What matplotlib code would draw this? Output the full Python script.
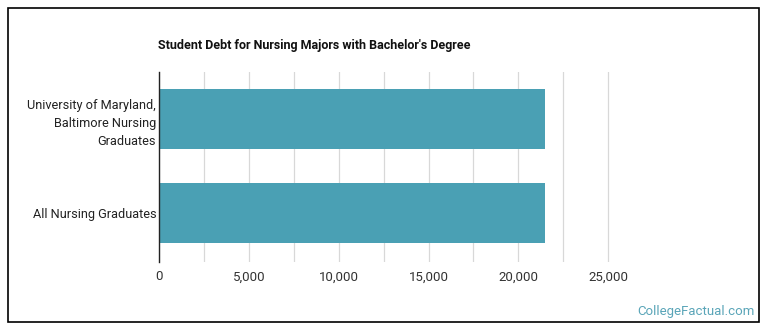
import matplotlib
matplotlib.use('Agg')
import matplotlib.pyplot as plt
from matplotlib.patches import Rectangle
from matplotlib.ticker import FuncFormatter, MultipleLocator

plt.rcParams['font.family'] = ['Roboto', 'DejaVu Sans']

categories = ['University of Maryland,\nBaltimore Nursing\nGraduates', 'All Nursing Graduates']
debt = [21500, 21500]
x_ticks = [0, 5000, 10000, 15000, 20000, 25000]

W, H = 770, 335
fig = plt.figure(figsize=(W / 100, H / 100), dpi=100)
fig.patch.set_facecolor('white')

# outer frame
fig.patches.append(Rectangle((8 / W, 1 - 322 / H), 751 / W, 314 / H,
                             transform=fig.transFigure, fill=False,
                             edgecolor='black', linewidth=1.2))

ax = fig.add_axes([159 / W, 1 - 262 / H, (610 - 159) / W, 190 / H])
ax.barh(range(len(categories)), debt, height=0.63, color='#4AA0B4', zorder=3)
ax.set_xlim(0, 25100)
ax.set_ylim(1.52, -0.5)

ax.set_xticks(x_ticks)
ax.xaxis.set_major_formatter(FuncFormatter(lambda v, p: f'{int(v):,}'))
ax.xaxis.set_minor_locator(MultipleLocator(2500))
ax.grid(axis='x', which='both', color='#d8d8d8', linewidth=0.9, zorder=0)
ax.tick_params(axis='x', which='both', length=0, pad=6, labelsize=9.5, labelcolor='#333333')

ax.set_yticks(range(len(categories)))
ax.set_yticklabels(categories, fontsize=9.2, color='#222222', linespacing=1.5)
ax.tick_params(axis='y', length=0, pad=2)

for s in ['top', 'right', 'bottom']:
    ax.spines[s].set_visible(False)
ax.spines['left'].set_color('#222222')
ax.spines['left'].set_linewidth(1.0)
ax.spines['left'].set_zorder(4)

fig.text(158 / W, 1 - 45 / H, "Student Debt for Nursing Majors with Bachelor's Degree",
         fontsize=9.0, fontweight='bold', color='#111111', va='center', ha='left')
fig.text(755 / W, 1 - 311 / H, 'CollegeFactual.com', fontsize=9.5,
         color='#5aa5b8', ha='right', va='center')

fig.savefig('out.png', dpi=100, facecolor='white')
